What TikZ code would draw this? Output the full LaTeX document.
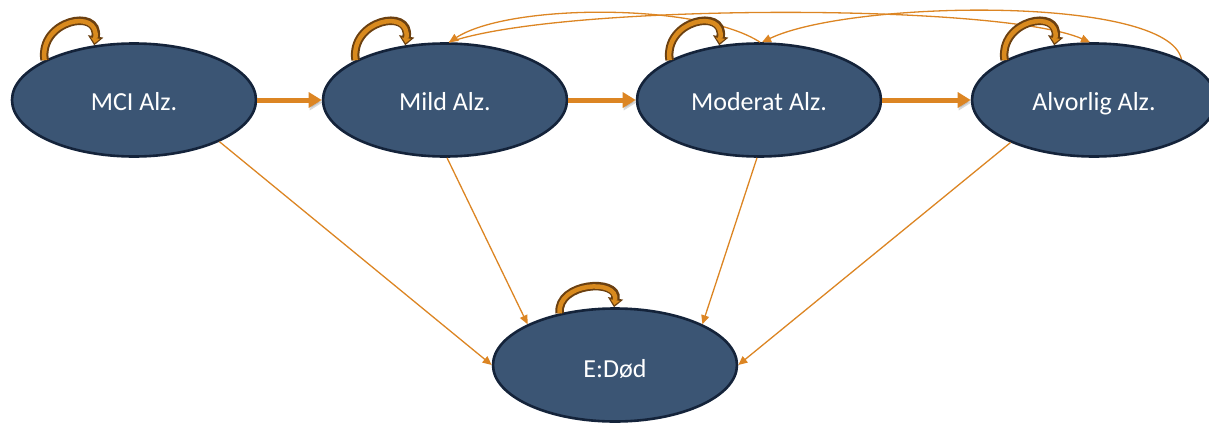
\documentclass[tikz,border=0pt]{standalone}
\usepackage{fontspec}
\setmainfont{Carlito}
\usetikzlibrary{arrows.meta,shapes.geometric}
\definecolor{stateblue}{HTML}{3B5574}
\definecolor{stateedge}{HTML}{14233A}
\definecolor{arroworange}{HTML}{DC8523}
\definecolor{looporange}{HTML}{D98A1E}
\definecolor{loopbrown}{HTML}{6B4011}
\begin{document}
\begin{tikzpicture}[x=1pt,y=-1pt,
  state/.style={ellipse, draw=stateedge, line width=2.6pt, fill=stateblue,
    minimum width=244pt, minimum height=113pt, inner sep=0pt, text=white,
    text height=22pt, text depth=2pt,
    font=\fontsize{26}{30}\selectfont},
  thinarrow/.style={draw=arroworange, line width=1.3pt,
    -{Triangle[length=9pt,width=8pt]}},
  bigarrow/.style={draw=arroworange, line width=5pt,
    -{Triangle[length=13pt,width=15pt]},
    preaction={draw=black!50, opacity=0.3, transform canvas={xshift=1pt,yshift=-2.5pt}}},
  loopouter/.style={draw=loopbrown, line width=8.5pt,
    -{Triangle[length=9pt,width=15pt]}},
  loopinner/.style={draw=looporange, line width=4.5pt, shorten >=2.2pt,
    -{Triangle[length=5pt,width=9pt]}},
]
\useasboundingbox (0,0) rectangle (1209,423);
\clip (0,0) rectangle (1209,423);

\node[state] (mci)  at (134,100) {MCI Alz.};
\node[state] (mild) at (445,100) {Mild Alz.};
\node[state] (mod)  at (759,100) {Moderat Alz.};
\node[state] (alv)  at (1094,100) {Alvorlig Alz.};
\node[state, text height=27pt] (dod)  at (615,365) {E:Død};

% forward transitions
\draw[bigarrow] (mci.east) -- (mild.west);
\draw[bigarrow] (mild.east) -- (mod.west);
\draw[bigarrow] (mod.east) -- (alv.west);

% to death
\draw[thinarrow] (mci.-26) -- (dod.180);
\draw[thinarrow] (mild.-88) -- (dod.155);
\draw[thinarrow] (mod.-92) -- (dod.25);
\draw[thinarrow] (alv.-153) -- (dod.0);

% arcs over the top
\draw[thinarrow] (mod.89) .. controls (700,3) and (510,3) .. (mild.86);
\draw[thinarrow] (mild.86) .. controls (560,3) and (1000,3) .. (alv.94);
\draw[thinarrow] (alv.25) .. controls (1168,-5) and (850,0) .. (mod.87);

% self loops
\foreach \n in {mci,mild,mod,alv}{
  \draw[loopouter] (\n.156) .. controls +(-6,-40) and +(6,-38) .. (\n.126.6);
  \draw[loopinner] (\n.156) .. controls +(-6,-40) and +(6,-38) .. (\n.126.6);
}
\draw[loopouter] (dod.137) .. controls +(-3,-31) and +(5,-29) .. (dod.91);
\draw[loopinner] (dod.137) .. controls +(-3,-31) and +(5,-29) .. (dod.91);
\end{tikzpicture}
\end{document}
